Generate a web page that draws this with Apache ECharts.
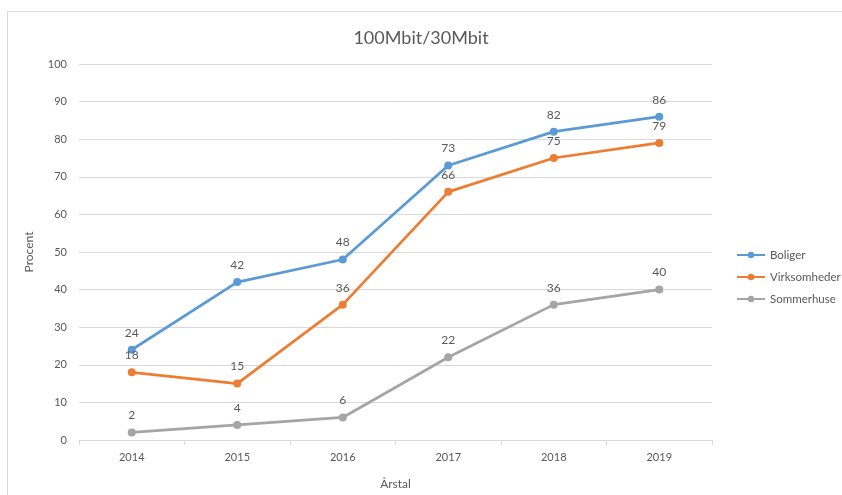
<!DOCTYPE html>
<html>
<head>
<meta charset="utf-8">
<script src="https://cdn.jsdelivr.net/npm/echarts@6/dist/echarts.min.js"></script>
<style>
  html, body { margin: 0; padding: 0; background: #fff; }
  #frame { position: absolute; left: 7px; top: 11px; width: 900px; height: 600px; border: 1px solid #d9d9d9; }
  #chart { position: absolute; left: 0; top: 0; width: 842px; height: 495px; }
</style>
</head>
<body>
<div id="frame"></div>
<div id="chart"></div>
<script>
const years = ["2014", "2015", "2016", "2017", "2018", "2019"];
const boliger = [24, 42, 48, 73, 82, 86];
const virksomheder = [18, 15, 36, 66, 75, 79];
const sommerhuse = [2, 4, 6, 22, 36, 40];

const txt = '#595959';
const font = 'Lato';

function lineSeries(name, data, color) {
  return {
    name: name,
    type: 'line',
    data: data,
    symbol: 'circle',
    symbolSize: 8,
    lineStyle: { color: color, width: 2.75 },
    itemStyle: { color: color },
    label: { show: true, position: 'top', distance: 7, color: txt, fontSize: 12, fontFamily: font }
  };
}

function initChart() {
  const chart = echarts.init(document.getElementById('chart'));
  const option = {
    animation: false,
    title: {
      text: '100Mbit/30Mbit', left: 'center', top: 24,
      textStyle: { color: txt, fontSize: 18, fontWeight: 'normal', fontFamily: font }
    },
    legend: {
      orient: 'vertical', left: 731, top: 244, itemGap: 10, itemWidth: 28, itemHeight: 8,
      textStyle: { color: txt, fontSize: 11.5, fontFamily: font },
      data: ['Boliger', 'Virksomheder', 'Sommerhuse']
    },
    grid: { left: 79, right: 130, top: 64, bottom: 55 },
    xAxis: {
      type: 'category',
      data: years,
      name: 'Årstal', nameLocation: 'middle', nameGap: 38,
      nameTextStyle: { color: txt, fontSize: 12, fontFamily: font },
      axisLine: { lineStyle: { color: '#d9d9d9' } },
      axisTick: { show: true, length: 5, lineStyle: { color: '#d9d9d9' } },
      axisLabel: { color: txt, fontSize: 11, fontFamily: font, margin: 12 }
    },
    yAxis: {
      type: 'value', min: 0, max: 100, interval: 10,
      name: 'Procent', nameLocation: 'middle', nameGap: 44, nameRotate: 90,
      nameTextStyle: { color: txt, fontSize: 12, fontFamily: font },
      axisLine: { show: false },
      axisTick: { show: false },
      axisLabel: { color: txt, fontSize: 11, fontFamily: font, margin: 12 },
      splitLine: { lineStyle: { color: '#d9d9d9' } }
    },
    series: [
      lineSeries('Boliger', boliger, '#5B9BD5'),
      lineSeries('Virksomheder', virksomheder, '#ED7D31'),
      lineSeries('Sommerhuse', sommerhuse, '#A5A5A5')
    ]
  };
  chart.setOption(option);
}

document.addEventListener('DOMContentLoaded', initChart);
</script>
</body>
</html>
